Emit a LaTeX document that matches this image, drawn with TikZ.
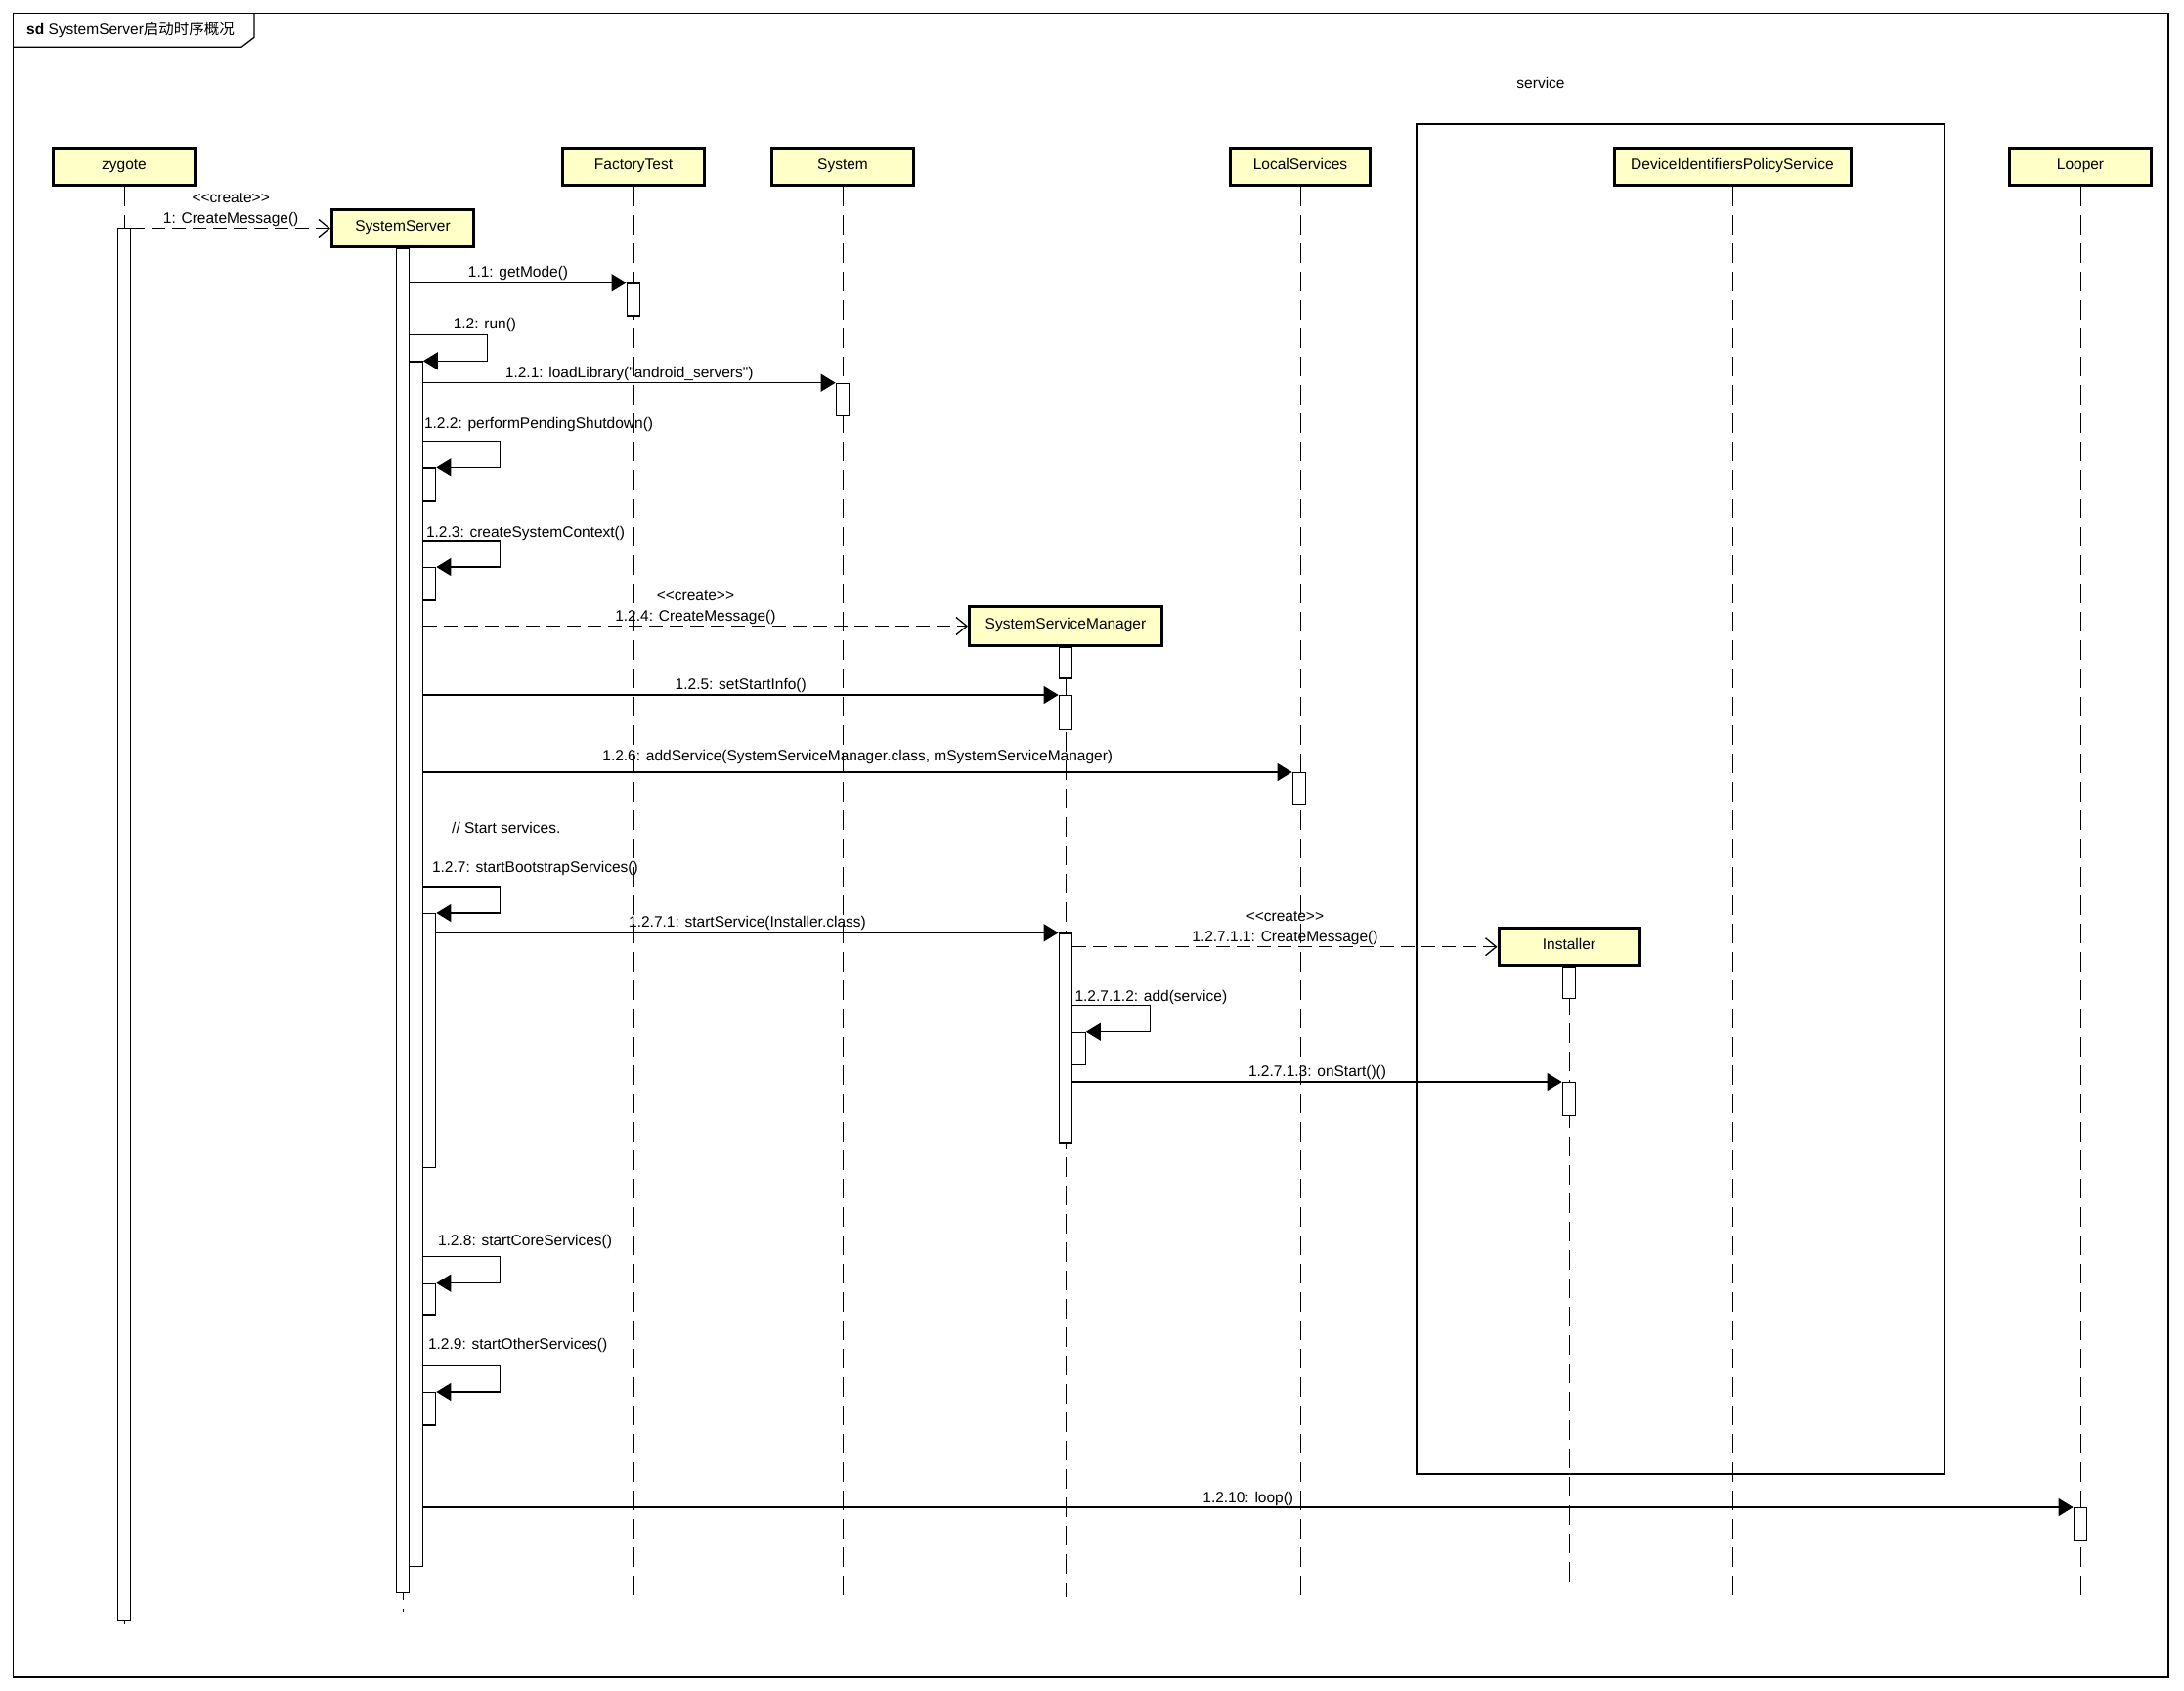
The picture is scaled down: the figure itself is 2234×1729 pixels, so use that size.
\documentclass[tikz,border=0pt]{standalone}
\usepackage{fontspec}
\setmainfont{Liberation Sans}[Ligatures=TeXOff]
\newfontfamily\cjk{Noto Sans CJK SC}
\usepackage{tikz}
\usetikzlibrary{arrows.meta,positioning}
\definecolor{objYellow}{RGB}{255,255,200}
\newcommand{\lblfont}{\fontsize{15.5}{20.7}\selectfont}
\tikzset{
  obj/.style={draw,line width=3pt,fill=objYellow,minimum height=38pt,inner sep=0pt,
              font=\lblfont,text height=11pt,text depth=6pt},
  act/.style={draw,line width=1.2pt,fill=white,minimum width=13.5pt,inner sep=0pt,anchor=north},
  life/.style={line width=1pt,dash pattern=on 20pt off 9pt},
  msg/.style={line width=1.3pt,-{Triangle[length=15pt,width=18pt]}},
  create/.style={line width=1.3pt,dash pattern=on 14pt off 7pt,-{Straight Barb[length=11pt,width=18pt]}},
  lbl/.style={font=\lblfont,inner sep=0pt,align=center},
  frm/.style={line width=1.3pt},
}

\begin{document}
\begin{tikzpicture}[x=1pt,y=-1pt]
  \useasboundingbox (0,0) rectangle (2234,1729);
  %% ── Frame ───────────────────────────────────────────────────────────────
  \draw[frm] (13.5,13.5) rectangle (2218,1716);
  \draw[frm] (13.5,48.3) -- (247,48.3) -- (260,38.3) -- (260,13.5);
  \node[lbl,anchor=west] (ttl) at (27,31) {\textbf{sd} SystemServer{\cjk 启动时序概况}};

  %% ── service box ─────────────────────────────────────────────────────────
  \node[draw,line width=1.2pt,minimum width=540pt,minimum height=1381pt,inner sep=0pt] (svc) at (1719,817.5) {};
  \node[lbl] (svcl) at (1576,85) {service};

  %% ── Lifeline heads ──────────────────────────────────────────────────────
  \node[obj,minimum width=145pt] (zyg)    at (127,170.5)  {zygote};
  \node[obj,minimum width=145pt] (ss)     at (412,233.5)  {SystemServer};
  \node[obj,minimum width=145pt] (ft)     at (648,170.5)  {FactoryTest};
  \node[obj,minimum width=145pt] (sys)    at (862,170.5)  {System};
  \node[obj,minimum width=197pt,minimum height=39.4pt] (ssm) at (1090,640.5) {SystemServiceManager};
  \node[obj,minimum width=143pt] (ls)     at (1330,170.5) {LocalServices};
  \node[obj,minimum width=144pt] (inst)   at (1605,968.7) {Installer};
  \node[obj,minimum width=242pt] (dips)   at (1772,170.5) {DeviceIdentifiersPolicyService};
  \node[obj,minimum width=145pt] (looper) at (2128,170.5) {Looper};

  %% ── Lifelines ───────────────────────────────────────────────────────────
  \foreach \n/\e in {zyg/1670,ss/1649,ft/1634,sys/1634,ssm/1634,ls/1634,inst/1627,dips/1634,looper/1634}{
    \draw[life] (\n.south) -- (\n.south |- 0,\e);
  }

  %% ── Activation bars ─────────────────────────────────────────────────────
  \foreach \n/\x/\yt/\yb in {zA/127/233/1657, sA/412/254/1629, sB/425.5/369.3/1602,
      sC/439/478.3/512.3, sD/439/580/613.3, sE/439/934/1194, sF/439/1312.7/1344.3,
      sG/439/1424/1457.3, fA/648/289.3/322.3, yA/862/391.7/425, mA/1090/661.7/693.3,
      mB/1090/711/745.7, mC/1090/954.3/1168.3, mD/1103.5/1055.7/1089, lA/1329/790/823,
      iA/1605/989/1021, iB/1605/1107/1141, pA/2128/1542/1576}{
    \node[act,minimum height={\yb-\yt}] (\n) at (\x,\yt) {};
  }

  %% ── Create messages ─────────────────────────────────────────────────────
  \foreach \a/\b/\txt in {zA/ss/{1: CreateMessage()}, sB/ssm/{1.2.4: CreateMessage()},
      mC/inst/{1.2.7.1.1: CreateMessage()}}{
    \draw[create] (\a.east |- \b.west) -- node[lbl,above=1.5pt] {<<create>>\\\txt} (\b.west);
  }

  %% ── Calls ───────────────────────────────────────────────────────────────
  \foreach \a/\b/\txt/\r in {sA/fA/{1.1: getMode()}/2, sB/yA/{1.2.1: loadLibrary("android\_servers")}/1.5,
      sB/mB/{1.2.5: setStartInfo()}/1.5,
      sB/lA/{1.2.6: addService(SystemServiceManager.class, mSystemServiceManager)}/7.5,
      sE/mC/{1.2.7.1: startService(Installer.class)}/1.5, mC/iB/{1.2.7.1.3: onStart()()}/1.5,
      sB/pA/{1.2.10: loop()}/1}{
    \draw[msg] (\a.east |- \b.north) -- node[lbl,above=\r pt] {\txt} (\b.north west);
  }

  %% ── Self calls ──────────────────────────────────────────────────────────
  \foreach \b/\txt/\dx/\dy in {sB/{1.2: run()}/45/5.8, sC/{1.2.2: performPendingShutdown()}/1.75/13.2,
      sD/{1.2.3: createSystemContext()}/3.75/3.5, sE/{1.2.7: startBootstrapServices()}/9.75/14.2,
      mD/{1.2.7.1.2: add(service)}/2.75/3.8, sF/{1.2.8: startCoreServices()}/15.75/11.5,
      sG/{1.2.9: startOtherServices()}/5.75/16.2}{
    \draw[msg] ([yshift=27pt]\b.north west) node[lbl,anchor=base west,xshift=\dx pt,yshift=\dy pt] {\txt}
      -- ++(80,0) |- (\b.north east);
  }

  \node[lbl,anchor=west] (note) at (462,846.7) {// Start services.};
\end{tikzpicture}
\end{document}
